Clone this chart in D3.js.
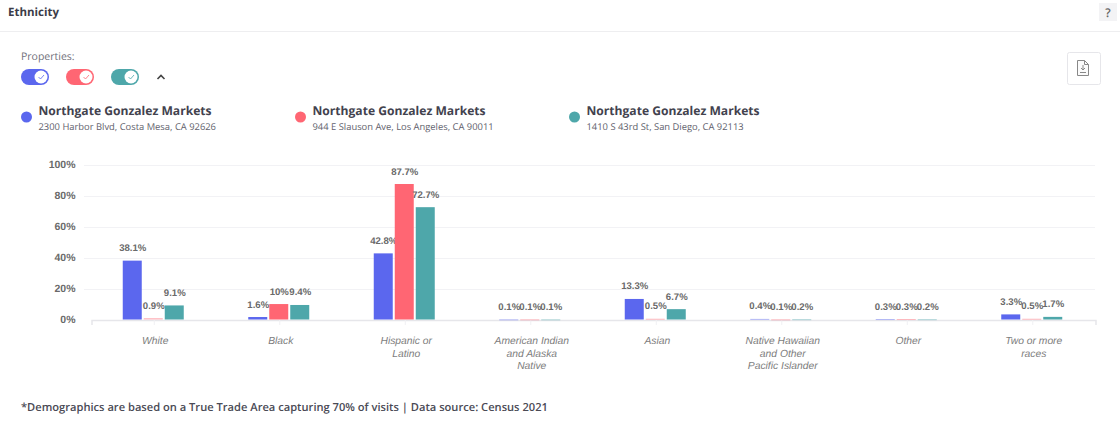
<!DOCTYPE html>
<html><head><meta charset="utf-8">
<script src="https://cdnjs.cloudflare.com/ajax/libs/d3/7.8.5/d3.min.js"></script>
<style>html,body{margin:0;padding:0;background:#fff;overflow:hidden}svg{display:block;text-rendering:geometricPrecision}</style>
</head><body><svg id="c" width="1120" height="424"></svg>
<script>
const categories=["White","Black","Hispanic or Latino","American Indian and Alaska Native","Asian","Native Hawaiian and Other Pacific Islander","Other","Two or more races"];
const categoryLines=[["White"],["Black"],["Hispanic or","Latino"],["American Indian","and Alaska","Native"],["Asian"],["Native Hawaiian","and Other","Pacific Islander"],["Other"],["Two or more","races"]];
const seriesA=[38.1,1.6,42.8,0.1,13.3,0.4,0.3,3.3];
const seriesB=[0.9,10,87.7,0.1,0.5,0.1,0.3,0.5];
const seriesC=[9.1,9.4,72.7,0.1,6.7,0.2,0.2,1.7];
const colors=["#5b67ee","#ff6673","#4ea7aa"];
const yTicks=[0,20,40,60,80,100];
const names=["Northgate Gonzalez Markets","Northgate Gonzalez Markets","Northgate Gonzalez Markets"];
const addresses=["2300 Harbor Blvd, Costa Mesa, CA 92626","944 E Slauson Ave, Los Angeles, CA 90011","1410 S 43rd St, San Diego, CA 92113"];
const legendX=[26.5,300.5,574.5];
const toggleX=[21,66,111];
const series=[seriesA,seriesB,seriesC];

const svg=d3.select("#c");
const OS="'Open Sans',sans-serif", AR="'Liberation Sans',Arial,sans-serif";
// header
svg.append("text").attr("x",8).attr("y",16).attr("font-family",OS).attr("font-size",11.5).attr("font-weight",700).attr("fill","#3c3c48").text("Ethnicity");
svg.append("line").attr("x1",0).attr("x2",1120).attr("y1",31.5).attr("y2",31.5).attr("stroke","#eeeef0");
svg.append("rect").attr("x",1099).attr("y",3).attr("width",18).attr("height",18).attr("fill","#f3f3f5");
svg.append("text").attr("x",1108).attr("y",17).attr("text-anchor","middle").attr("font-family",OS).attr("font-size",12).attr("font-weight",600).attr("fill","#666").text("?");
// export button
svg.append("rect").attr("x",1067.5).attr("y",52.5).attr("width",33).attr("height",32).attr("rx",2).attr("fill","#fff").attr("stroke","#e6e6ea");
svg.append("path").attr("d","M1077.500 60.500h7l4 4v11h-11z").attr("fill","#fbfbfb").attr("stroke","#888");
svg.append("path").attr("d","M1084.500 60.500v4h4").attr("fill","none").attr("stroke","#888");
svg.append("path").attr("d","M1083 65v5m-2-2l2 2l2-2M1080 72.500h6").attr("fill","none").attr("stroke","#888");
// toggles
svg.append("text").attr("x",21).attr("y",60).attr("font-family",OS).attr("font-size",10.5).attr("fill","#6f6f7a").text("Properties:");
const tg=svg.selectAll("g.toggle").data(toggleX).join("g").attr("transform",d=>`translate(${d},69)`);
tg.append("rect").attr("width",28).attr("height",16).attr("rx",8).attr("fill",(d,i)=>colors[i]);
tg.append("circle").attr("cx",20).attr("cy",8).attr("r",6.5).attr("fill","#fff");
tg.append("path").attr("d","M17.500 8l2 2l3.500-4").attr("fill","none").attr("stroke",(d,i)=>colors[i]).attr("stroke-width",.8);
svg.append("path").attr("d","M157.500 79l3.500-3.500l3.500 3.500").attr("fill","none").attr("stroke","#444").attr("stroke-width",1.6);
// legend
const lg=svg.selectAll("g.leg").data(legendX).join("g").attr("transform",d=>`translate(${d},117)`);
lg.append("circle").attr("r",5.5).attr("fill",(d,i)=>colors[i]);
lg.append("text").attr("x",12).attr("y",-2.5).attr("font-family",OS).attr("font-size",12.1).attr("font-weight",700).attr("fill","#42424e").text((d,i)=>names[i]);
lg.append("text").attr("x",12).attr("y",12.5).attr("font-family",OS).attr("font-size",9.4).attr("fill","#62626d").text((d,i)=>addresses[i]);
// scales
const x=d3.scaleBand().domain(categories).range([91.5,1095.5]);
const y=d3.scaleLinear().domain([0,100]).range([319.500,165]);
const sub=d3.scaleBand().domain([0,1,2]).range([-31.500,31.500]);
// grid
svg.append("g").selectAll("line").data(yTicks.filter(d=>d>0)).join("line")
 .attr("x1",84).attr("x2",1095).attr("y1",d=>Math.round(y(d))+.5).attr("y2",d=>Math.round(y(d))+.5).attr("stroke","#f2f2f5");
// y axis
const ya=svg.append("g").attr("transform","translate(75.5,-0.5)").call(d3.axisLeft(y).tickValues(yTicks).tickFormat(d=>d+"%").tickSize(0).tickPadding(0));
ya.select(".domain").remove();
ya.selectAll("text").attr("font-family",AR).attr("font-size",10.5).attr("font-weight",700).attr("fill","#6a6a6a");
// x axis
const xa=svg.append("g").attr("transform","translate(0,320)").call(d3.axisBottom(x).tickSize(5).tickFormat(""));
xa.select(".domain").attr("stroke","#e6e6ea").attr("stroke-width",1.5);
xa.selectAll(".tick line").attr("stroke","#f0f0f3");
// bars
const groups=svg.selectAll("g.cat").data(categories).join("g").attr("transform",d=>`translate(${x(d)+x.bandwidth()/2},0)`);
groups.each(function(c,ci){
  const g=d3.select(this);
  series.forEach((s,si)=>{
    const v=s[ci], bx=sub(si);
    g.append("rect").attr("x",bx).attr("width",19).attr("y",y(v)).attr("height",Math.max(y(0)-y(v),1))
      .attr("fill",colors[si]).attr("opacity",v<1?.45:1);
    g.append("text").attr("x",bx+10).attr("y",y(v)-9.5).attr("text-anchor","middle")
      .attr("font-family",AR).attr("font-size",9.6).attr("font-weight",700).attr("fill","#6a6a6a").text(v+"%");
  });
  const t=g.append("text").attr("text-anchor","middle").attr("font-family",AR).attr("font-size",10.3).attr("font-style","italic").attr("fill","#7d7d7d");
  categoryLines[ci].forEach((l,i)=>t.append("tspan").attr("x",1).attr("y",344+i*12.7).text(l));
});
// footnote
svg.append("text").attr("x",21).attr("y",411).attr("font-family",OS).attr("font-size",11.14).attr("font-weight",600).attr("fill","#4a4a55").text("*Demographics are based on a True Trade Area capturing 70% of visits | Data source: Census 2021");
</script></body></html>
